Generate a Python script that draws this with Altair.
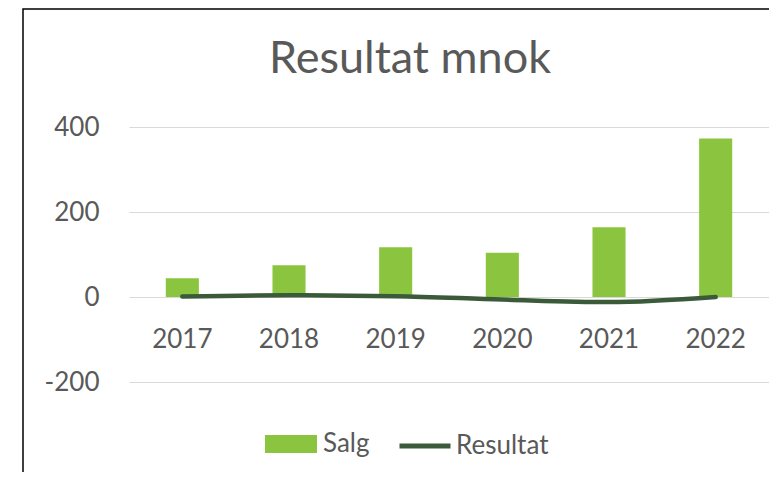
import altair as alt
import pandas as pd

years = ["2017", "2018", "2019", "2020", "2021", "2022"]
salg = [44, 75, 117, 104, 164, 373]
resultat = [1, 4, 2, -6, -12, 0]
y_ticks = [-200, 0, 200, 400]

GREEN = "#8BC53F"
DARK = "#3A5A3A"
TEXT = "#595959"
FONT = "Lato"

df = pd.DataFrame({"year": years, "salg": salg, "resultat": resultat})

x = alt.X(
    "year:N",
    sort=years,
    scale=alt.Scale(paddingInner=0, paddingOuter=0),
    axis=alt.Axis(
        title=None, labelAngle=0, domain=False, ticks=False, tickSize=0, grid=False,
        labelFontSize=26, labelFont=FONT, labelColor=TEXT, offset=-85,
        labelBaseline="alphabetic", labelPadding=50,
    ),
)

y_scale = alt.Scale(domain=[-200, 400], nice=False, zero=False)

border = alt.Chart(pd.DataFrame({"a": [0]})).mark_rect(
    fill="transparent", stroke="#000000", strokeWidth=1.5, clip=False
).encode(
    x=alt.value(-106), x2=alt.value(700), y=alt.value(-118), y2=alt.value(400)
)

bars = alt.Chart(df).transform_calculate(serie="'Salg'").mark_bar(
    width=alt.RelativeBandSize(0.31)
).encode(
    x=x,
    y=alt.Y(
        "salg:Q", scale=y_scale,
        axis=alt.Axis(
            title=None, values=y_ticks, domain=False, ticks=False, tickSize=0,
            grid=True, gridColor="#D9D9D9", gridWidth=1.2,
            labelFontSize=26, labelFont=FONT, labelColor=TEXT, labelPadding=30,
            labelExpr="'' + datum.value",
        ),
    ),
    fill=alt.Fill(
        "serie:N",
        scale=alt.Scale(domain=["Salg"], range=[GREEN]),
        legend=alt.Legend(
            title=None, orient="none", legendX=136, legendY=291,
            symbolType="M-1,-0.346H1V0.346H-1Z", symbolSize=2704,
            symbolStrokeWidth=0, labelFontSize=26, labelFont=FONT,
            labelColor=TEXT, labelOffset=6,
        ),
    ),
)

line = alt.Chart(df).transform_calculate(serie="'Resultat'").mark_line(
    interpolate="monotone", strokeWidth=4.5, strokeCap="round"
).encode(
    x=x,
    y=alt.Y("resultat:Q", scale=y_scale),
    stroke=alt.Stroke(
        "serie:N",
        scale=alt.Scale(domain=["Resultat"], range=[DARK]),
        legend=alt.Legend(
            title=None, orient="none", legendX=268, legendY=291,
            symbolType="stroke", symbolSize=2600, symbolStrokeWidth=5,
            labelFontSize=26, labelFont=FONT, labelColor=TEXT, labelOffset=3,
        ),
    ),
)

chart = alt.layer(border, bars, line).properties(
    width=640,
    height=255,
    autosize=alt.AutoSizeParams(type="none"),
    padding={"left": 121, "top": 119, "right": 0, "bottom": 90},
    title=alt.TitleParams(
        "Resultat mnok", fontSize=45, font=FONT, fontWeight="normal", color=TEXT,
        anchor="middle", frame="group", baseline="alphabetic", offset=0,
        dx=-39, dy=110,
    ),
).resolve_scale(
    fill="independent", stroke="independent"
).configure(
    font=FONT, background="white", view=alt.ViewConfig(strokeWidth=0, stroke="transparent")
)

chart.save("out.html", embed_options={"renderer": "svg", "actions": False})
